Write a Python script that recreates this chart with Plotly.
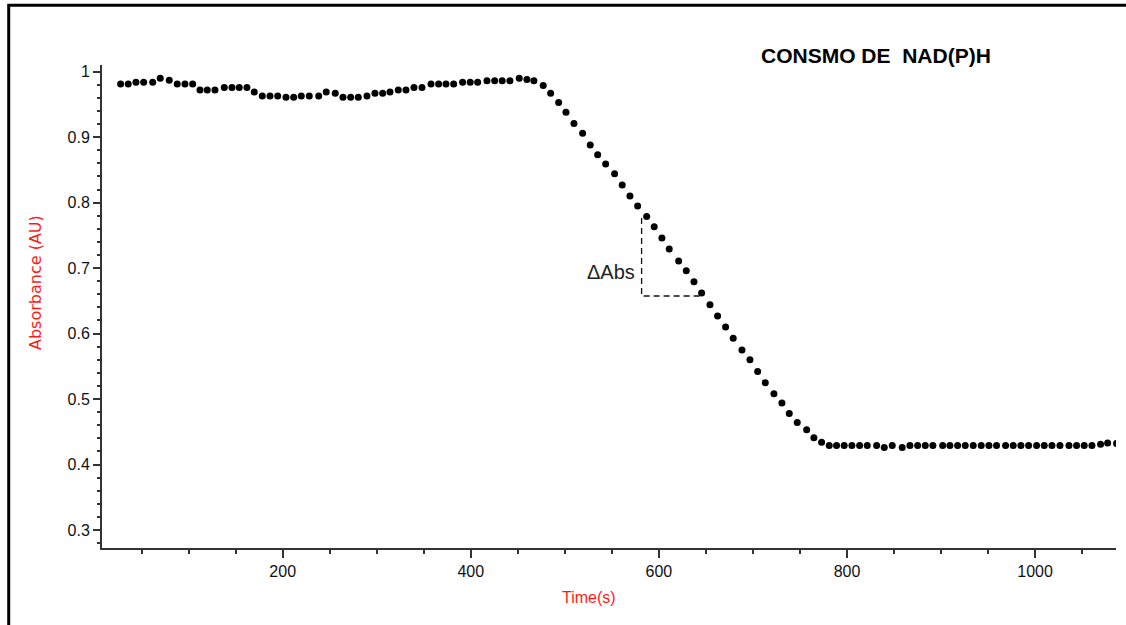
import plotly.graph_objects as go

# ---- data ----
time_s = [27.7, 35.8, 44.0, 52.2, 61.8, 69.8, 79.4, 87.9, 96.1, 104.3,
          112.1, 119.8, 128.0, 137.9, 146.1, 153.8, 162.0, 169.8, 178.3, 186.5,
          194.7, 203.5, 211.7, 219.8, 228.3, 238.3, 246.3, 255.9, 264.1, 272.3,
          280.4, 289.6, 298.1, 306.3, 314.1, 322.9, 331.1, 339.6, 348.1, 357.7,
          365.8, 373.6, 381.8, 391.3, 399.4, 407.3, 417.2, 425.4, 433.4, 441.6,
          451.5, 459.7, 467.1, 477.0, 484.9, 493.4, 501.2, 509.7, 518.9, 527.0,
          534.9, 543.4, 552.9, 561.0, 569.2, 577.4, 587.0, 595.0, 603.2, 611.0,
          621.0, 629.1, 637.3, 645.4, 654.3, 662.4, 670.9, 679.0, 688.3, 696.8,
          705.0, 713.1, 722.3, 730.8, 738.6, 747.1, 757.1, 764.8, 773.0, 781.1,
          788.9, 797.0, 805.2, 813.4, 821.5, 831.5, 839.6, 848.1, 858.7, 866.9,
          875.1, 883.2, 891.3, 901.7, 909.4, 917.6, 925.7, 934.2, 942.7, 950.9,
          959.0, 968.6, 976.7, 984.9, 993.1, 1001.6, 1009.7, 1017.9, 1026.4, 1036.0,
          1044.1, 1052.2, 1060.4, 1069.6, 1077.1, 1086.6]

absorbance = [0.981, 0.981, 0.984, 0.984, 0.984, 0.990, 0.987, 0.981, 0.981, 0.981,
              0.972, 0.972, 0.972, 0.976, 0.976, 0.976, 0.976, 0.969, 0.963, 0.963,
              0.963, 0.961, 0.961, 0.963, 0.963, 0.963, 0.969, 0.967, 0.961, 0.961,
              0.961, 0.963, 0.967, 0.967, 0.969, 0.972, 0.972, 0.976, 0.976, 0.981,
              0.981, 0.981, 0.981, 0.984, 0.984, 0.984, 0.986, 0.986, 0.986, 0.986,
              0.990, 0.988, 0.986, 0.979, 0.967, 0.953, 0.938, 0.921, 0.906, 0.888,
              0.873, 0.859, 0.844, 0.827, 0.810, 0.795, 0.779, 0.763, 0.746, 0.729,
              0.711, 0.696, 0.679, 0.662, 0.644, 0.627, 0.610, 0.593, 0.575, 0.560,
              0.542, 0.525, 0.508, 0.494, 0.478, 0.464, 0.453, 0.441, 0.434, 0.429,
              0.429, 0.429, 0.429, 0.429, 0.429, 0.429, 0.426, 0.429, 0.426, 0.429,
              0.429, 0.429, 0.429, 0.429, 0.429, 0.429, 0.429, 0.429, 0.429, 0.429,
              0.429, 0.429, 0.429, 0.429, 0.429, 0.429, 0.429, 0.429, 0.429, 0.429,
              0.429, 0.429, 0.429, 0.431, 0.433, 0.432]

# slope annotation (the dashed right triangle)
delta_t_start = 581.6
delta_t_end = 643.6
delta_abs_top = 0.7765
delta_abs_bottom = 0.6574
delta_label_abs = 0.6945

title_text = "CONSMO DE  NAD(P)H"
x_title = "Time(s)"
y_title = "Absorbance (AU)"
delta_label = "ΔAbs"

axis_color = "#333333"
red = "#ff1a1a"

fig = go.Figure()
fig.add_trace(go.Scatter(
    x=time_s, y=absorbance, mode="markers",
    marker=dict(symbol="circle", size=7, color="black", line=dict(width=0)),
    cliponaxis=True, showlegend=False, hoverinfo="x+y"))

# dashed triangle
fig.add_trace(go.Scatter(
    x=[delta_t_start, delta_t_start, delta_t_end],
    y=[delta_abs_top, delta_abs_bottom, delta_abs_bottom],
    mode="lines", line=dict(color="#111111", width=1.3, dash="6px,4px"),
    showlegend=False, hoverinfo="skip"))

tick_font = dict(family="Liberation Sans, Arial, sans-serif", size=16, color="#111111")

fig.update_layout(
    width=1126, height=625,
    margin=dict(l=102, r=10, t=65, b=77),
    paper_bgcolor="white", plot_bgcolor="white",
    xaxis=dict(range=[7.9, 1086.0], dtick=200, tick0=0,
               showgrid=False, zeroline=False,
               showline=True, linecolor=axis_color, linewidth=2,
               ticks="outside", ticklen=8, tickwidth=1.5, tickcolor=axis_color,
               minor=dict(dtick=50, tick0=0, ticks="outside", ticklen=4,
                          tickwidth=1.5, tickcolor=axis_color, showgrid=False),
               tickfont=tick_font),
    yaxis=dict(range=[0.2725, 1.0102], dtick=0.1, tick0=0,
               showgrid=False, zeroline=False,
               showline=True, linecolor=axis_color, linewidth=2,
               ticks="outside", ticklen=7, tickwidth=1.5, tickcolor=axis_color,
               minor=dict(dtick=0.02, tick0=0, ticks="outside", ticklen=3,
                          tickwidth=1.5, tickcolor=axis_color, showgrid=False),
               tickfont=tick_font),
    shapes=[dict(type="rect", xref="paper", yref="paper",
                 x0=-0.0920, x1=1.02, y0=-0.18, y1=1.1236,
                 line=dict(color="black", width=3), fillcolor="rgba(0,0,0,0)",
                 layer="above")],
    annotations=[
        dict(text="<b>" + title_text + "</b>", xref="paper", yref="paper",
             x=0.7638, y=1.0207, xanchor="center", yanchor="middle",
             showarrow=False,
             font=dict(family="Liberation Sans, Arial, sans-serif", size=21, color="black")),
        dict(text=x_title, xref="paper", yref="paper",
             x=0.4803, y=-0.1035, xanchor="center", yanchor="middle",
             showarrow=False,
             font=dict(family="Liberation Sans, Arial, sans-serif", size=16, color=red)),
        dict(text=y_title, xref="paper", yref="paper",
             x=-0.0661, y=0.5507, xanchor="center", yanchor="middle",
             textangle=-90, showarrow=False,
             font=dict(family="DejaVu Sans, sans-serif", size=16, color=red)),
        dict(text=delta_label, xref="x", yref="y",
             x=delta_t_start, y=delta_label_abs,
             xanchor="right", yanchor="middle", xshift=-5, showarrow=False,
             font=dict(family="Liberation Sans, Arial, sans-serif", size=20, color="#222222")),
    ],
)

fig.write_html("out.html")
